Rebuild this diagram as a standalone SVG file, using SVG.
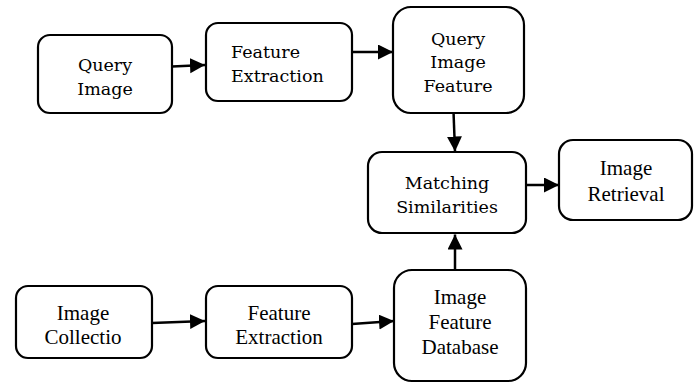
<svg xmlns="http://www.w3.org/2000/svg" width="698" height="383" viewBox="0 0 698 383">
<style>
.box{fill:#fff;stroke:#000;stroke-width:2.2}
.conn{stroke:#000;stroke-width:2.5;fill:none;marker-end:url(#ah)}
</style>
<defs>
<marker id="ah" markerUnits="userSpaceOnUse" markerWidth="16" markerHeight="16" refX="15" refY="7.5" orient="auto">
<path d="M0,0 L15,7.5 L0,15 z" fill="#000"/>
</marker>
</defs>
<rect width="698" height="383" fill="#fff"/>
<g id="connectors">
<line class="conn" x1="172" y1="66.5" x2="205" y2="65"/>
<line class="conn" x1="352" y1="52" x2="393" y2="52"/>
<line class="conn" x1="453" y1="98" x2="455" y2="151.5"/>
<line class="conn" x1="526" y1="185" x2="559" y2="185"/>
<line class="conn" x1="455" y1="270" x2="455" y2="234.5"/>
<line class="conn" x1="152" y1="323" x2="205" y2="321"/>
<line class="conn" x1="352" y1="324" x2="394" y2="321"/>
</g>
<g id="query-image">
<rect class="box" x="38" y="35" width="134" height="78" rx="12"/>
<text font-family="DejaVu Serif" font-size="17.5" text-anchor="middle" x="105" y="71">Query</text>
<text font-family="DejaVu Serif" font-size="17.5" text-anchor="middle" x="105" y="95">Image</text>
</g>
<g id="feature-extraction-1">
<rect class="box" x="206" y="23" width="146" height="78" rx="12"/>
<text font-family="DejaVu Serif" font-size="17.5" x="231" y="58">Feature</text>
<text font-family="DejaVu Serif" font-size="17.5" x="231" y="82">Extraction</text>
</g>
<g id="query-image-feature">
<rect class="box" x="393" y="7" width="131" height="106" rx="18"/>
<text font-family="DejaVu Serif" font-size="17.5" text-anchor="middle" x="458" y="45">Query</text>
<text font-family="DejaVu Serif" font-size="17.5" text-anchor="middle" x="458" y="68">Image</text>
<text font-family="DejaVu Serif" font-size="17.5" text-anchor="middle" x="458" y="92">Feature</text>
</g>
<g id="matching-similarities">
<rect class="box" x="368" y="152" width="158" height="81" rx="14"/>
<text font-family="DejaVu Serif" font-size="17.5" text-anchor="middle" x="447" y="189">Matching</text>
<text font-family="DejaVu Serif" font-size="17.5" text-anchor="middle" x="447" y="213">Similarities</text>
</g>
<g id="image-retrieval">
<rect class="box" x="559" y="140" width="133" height="80" rx="14"/>
<text font-family="Liberation Serif" font-size="21" text-anchor="middle" x="626" y="175">Image</text>
<text font-family="Liberation Serif" font-size="21" text-anchor="middle" x="626" y="201">Retrieval</text>
</g>
<g id="image-collection">
<rect class="box" x="16" y="286" width="136" height="72" rx="12"/>
<text font-family="Liberation Serif" font-size="21" text-anchor="middle" x="83" y="320">Image</text>
<text font-family="Liberation Serif" font-size="21" text-anchor="middle" x="83" y="344">Collectio</text>
</g>
<g id="feature-extraction-2">
<rect class="box" x="206" y="286" width="146" height="72" rx="12"/>
<text font-family="Liberation Serif" font-size="21" text-anchor="middle" x="279" y="320">Feature</text>
<text font-family="Liberation Serif" font-size="21" text-anchor="middle" x="279" y="344">Extraction</text>
</g>
<g id="image-feature-database">
<rect class="box" x="394" y="270" width="132" height="111" rx="18"/>
<text font-family="Liberation Serif" font-size="21" text-anchor="middle" x="460" y="304">Image</text>
<text font-family="Liberation Serif" font-size="21" text-anchor="middle" x="460" y="329">Feature</text>
<text font-family="Liberation Serif" font-size="21" text-anchor="middle" x="460" y="354">Database</text>
</g>
</svg>
